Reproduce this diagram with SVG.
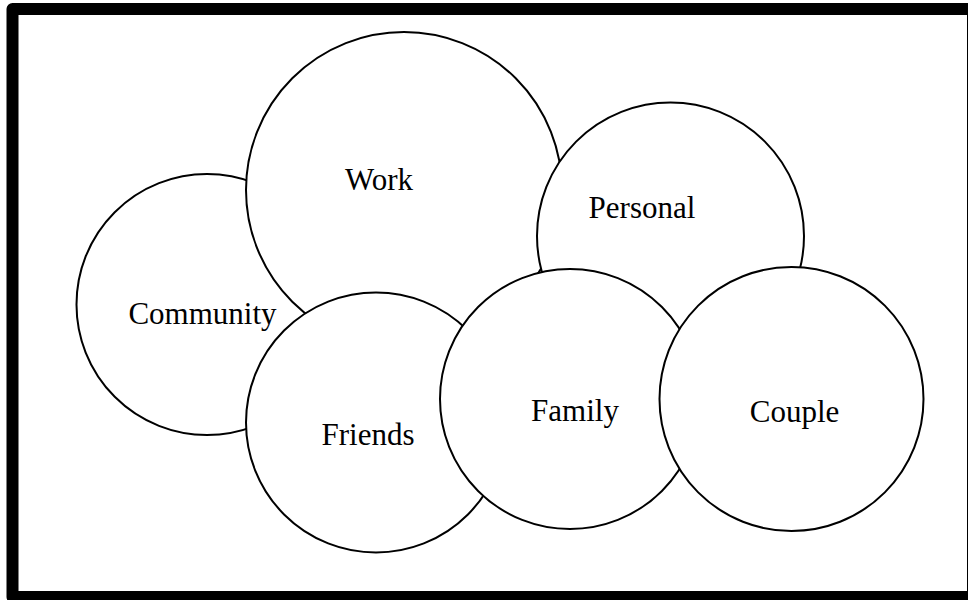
<svg xmlns="http://www.w3.org/2000/svg" width="968" height="600" viewBox="0 0 968 600">
<style>
.c{fill:#fff;stroke:#000;stroke-width:2}
.t{font-family:"Liberation Serif","Times New Roman",serif;font-size:31px;fill:#000;text-anchor:middle}
</style>
<rect x="0" y="0" width="968" height="600" fill="#fff"/>
<rect x="12.5" y="9" width="960.5" height="588" fill="#fff" stroke="#000" stroke-width="12" stroke-linejoin="round"/>
<g id="community"><circle class="c" cx="207" cy="304.5" r="130.5"/><text class="t" x="202.5" y="324">Community</text></g>
<g id="work"><circle class="c" cx="404" cy="190" r="158"/><text class="t" x="379" y="189.5">Work</text></g>
<g id="personal"><circle class="c" cx="670.5" cy="236" r="133.5"/><text class="t" x="642" y="218">Personal</text></g>
<g id="friends"><circle class="c" cx="376" cy="422.5" r="130"/><text class="t" x="368" y="444.5">Friends</text></g>
<g id="family"><circle class="c" cx="570" cy="399" r="130"/><text class="t" x="575" y="421">Family</text></g>
<g id="couple"><circle class="c" cx="791.5" cy="399" r="132"/><text class="t" x="794.5" y="421.5">Couple</text></g>
<g id="connectors"></g>
</svg>
